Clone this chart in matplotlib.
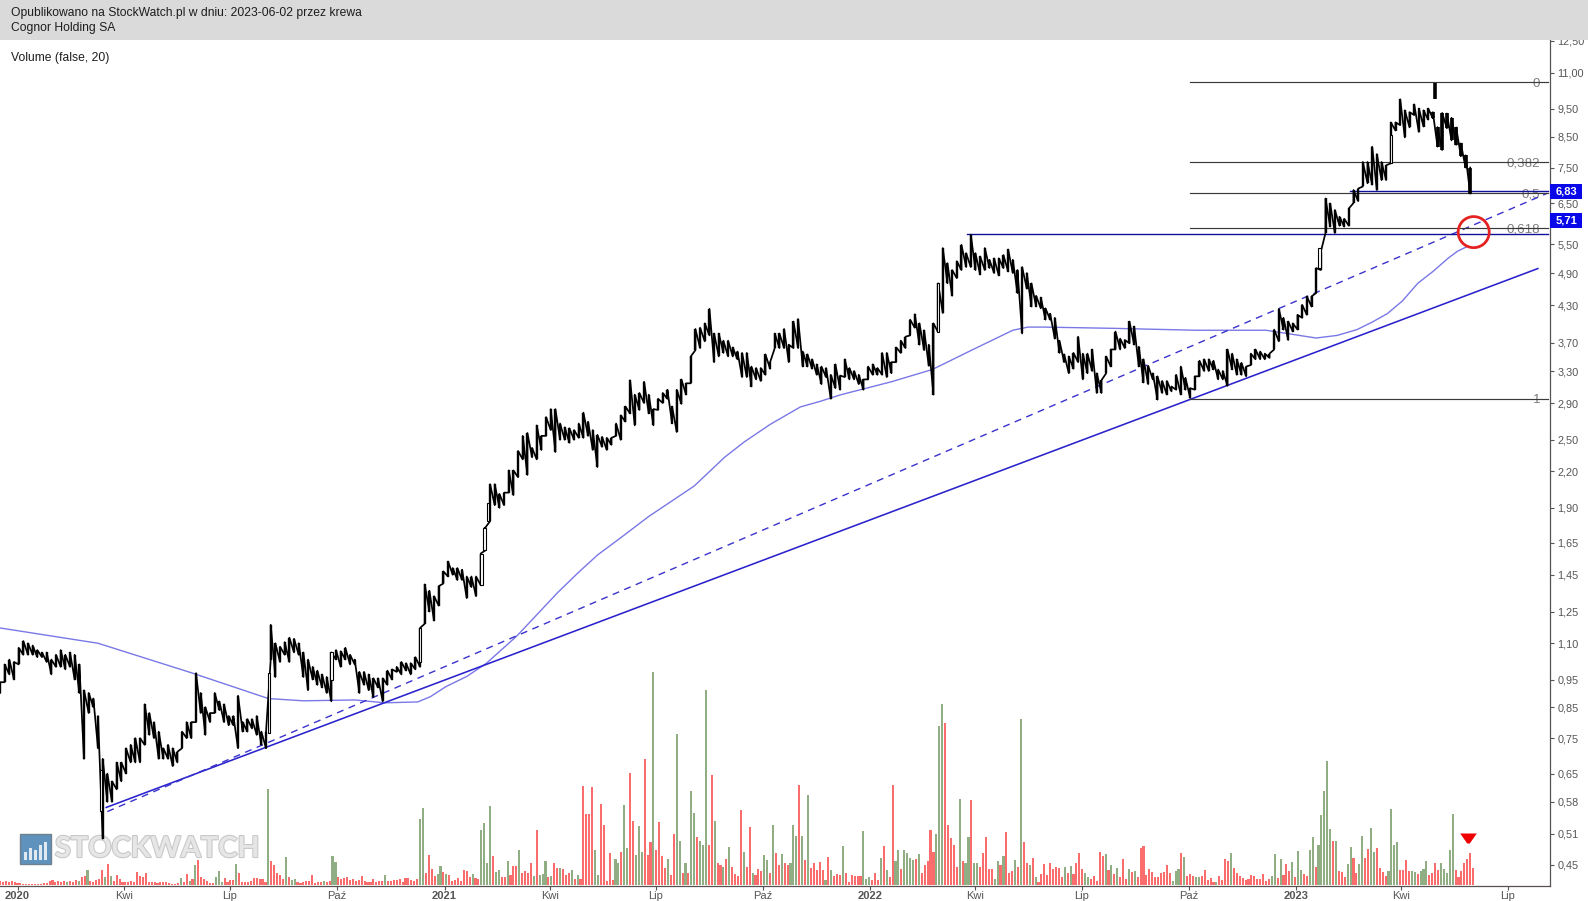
import datetime as dt
import matplotlib
matplotlib.use("Agg")
import matplotlib.pyplot as plt
import matplotlib.dates as mdates
import matplotlib.patheffects as pe
from matplotlib.patches import Rectangle
from matplotlib.path import Path
from matplotlib.ticker import FixedLocator, FixedFormatter, NullLocator
import numpy as np

plt.rcParams['font.family'] = ['Liberation Sans', 'DejaVu Sans']

# ---- price data: high / low read per 4-calendar-day step ----
first_day = dt.date(2019, 12, 17)
high = [.94,1.01,1.03,1.02,1.08,1.11,1.10,1.09,1.07,1.06,
 1.06,1.03,1.05,1.07,1.05,1.06,1.05,1.01,.91,.90,
 .88,.82,.69,.65,.63,.68,.68,.72,.73,.75,
 .75,.86,.83,.80,.77,.72,.73,.72,.71,.77,
 .80,.80,.975,.90,.85,.83,.90,.87,.86,.82,
 .82,.89,.80,.81,.81,.82,.77,.77,1.185,1.10,
 1.085,1.105,1.125,1.12,1.10,1.06,1.03,1.00,.985,.97,
 .96,1.06,1.07,1.065,1.08,1.05,1.03,.98,.98,.97,
 .955,.955,.955,.985,.99,1.00,1.02,1.015,1.015,1.04,
 1.17,1.395,1.36,1.33,1.385,1.47,1.53,1.49,1.49,1.48,
 1.44,1.44,1.44,1.58,1.755,2.09,2.09,2.01,2.02,2.21,
 2.21,2.39,2.54,2.57,2.42,2.65,2.54,2.74,2.83,2.83,
 2.67,2.63,2.62,2.60,2.67,2.79,2.69,2.60,2.55,2.53,
 2.52,2.52,2.67,2.76,2.86,3.18,3.0,3.02,3.16,3.0,
 2.83,2.95,3.02,3.06,2.86,3.06,3.19,3.14,3.50,3.91,
 3.93,4.0,4.24,3.84,3.84,3.73,3.73,3.63,3.57,3.55,
 3.55,3.36,3.34,3.34,3.53,3.42,3.84,3.84,3.91,3.67,
 4.03,4.07,3.57,3.53,3.46,3.39,3.36,3.34,3.25,3.39,
 3.24,3.46,3.34,3.30,3.25,3.19,3.36,3.39,3.34,3.55,
 3.55,3.42,3.63,3.73,3.79,4.06,4.15,4.0,3.89,3.67,
 4.0,4.70,5.42,5.10,4.96,5.14,5.49,5.31,5.72,5.31,
 5.24,5.42,5.17,5.2,5.2,5.27,5.39,5.17,4.96,5.02,
 4.90,4.70,4.47,4.44,4.25,4.16,4.09,3.73,3.53,3.50,
 3.55,3.79,3.54,3.54,3.60,3.27,3.18,3.50,3.60,3.87,
 3.76,3.74,4.03,3.95,3.64,3.46,3.37,3.27,3.23,3.17,
 3.17,3.10,3.25,3.36,3.21,3.08,3.23,3.44,3.46,3.46,
 3.44,3.32,3.30,3.60,3.54,3.46,3.41,3.36,3.54,3.60,
 3.57,3.54,3.54,3.90,4.24,4.09,4.03,4.0,4.14,4.31,
 4.46,4.46,5.0,5.34,6.62,6.49,6.32,6.15,6.10,6.36,
 6.85,6.89,7.67,7.67,8.16,7.92,7.67,7.57,9.0,9.0,
 9.88,9.45,9.38,9.68,9.52,9.45,9.52,9.38,8.83,9.35,
 9.33,9.17,8.82,8.27,7.88,7.5]
low = [.90,.94,.97,.95,1.01,1.05,1.05,1.05,1.04,1.04,
 1.02,.97,1.00,1.00,.99,1.00,.95,.90,.69,.83,
 .85,.72,.50,.58,.58,.61,.63,.65,.68,.68,
 .68,.73,.76,.75,.69,.69,.69,.67,.68,.72,
 .75,.75,.80,.83,.76,.80,.83,.84,.80,.79,
 .79,.72,.77,.77,.78,.76,.73,.72,1.03,.96,
 1.02,1.05,1.02,1.06,1.05,.96,.91,.95,.93,.92,
 .90,.87,1.03,1.00,1.03,1.01,1.01,.90,.93,.91,
 .885,.92,.87,.93,.95,.98,.97,.985,.97,.99,
 1.00,1.19,1.25,1.205,1.28,1.40,1.44,1.45,1.42,1.42,
 1.32,1.38,1.33,1.39,1.60,1.80,1.92,1.90,1.92,2.02,
 2.00,2.15,2.31,2.17,2.33,2.31,2.40,2.54,2.60,2.38,
 2.50,2.50,2.47,2.50,2.52,2.52,2.54,2.40,2.24,2.43,
 2.40,2.45,2.54,2.50,2.69,2.78,2.65,2.82,2.90,2.78,
 2.65,2.82,2.90,2.95,2.67,2.58,2.89,3.00,3.14,3.59,
 3.62,3.72,3.81,3.42,3.50,3.55,3.50,3.50,3.46,3.22,
 3.22,3.10,3.19,3.17,3.25,3.33,3.62,3.62,3.62,3.42,
 3.62,3.62,3.36,3.36,3.33,3.25,3.13,3.22,2.95,3.08,
 3.06,3.22,3.19,3.19,3.13,3.06,3.19,3.25,3.25,3.25,
 3.22,3.27,3.42,3.55,3.62,3.81,3.93,3.67,3.59,3.37,
 3.0,3.86,4.17,4.70,4.47,4.80,4.96,5.02,5.02,4.96,
 4.87,4.96,5.0,4.90,4.85,5.0,4.93,4.90,4.52,3.84,
 4.60,4.28,4.28,4.25,4.06,4.06,3.76,3.55,3.42,3.27,
 3.33,3.42,3.19,3.27,3.30,3.02,3.02,3.27,3.36,3.60,
 3.60,3.62,3.69,3.67,3.36,3.15,3.13,3.19,2.94,3.02,
 3.00,3.04,3.06,3.0,3.06,2.96,3.06,3.23,3.30,3.30,
 3.32,3.19,3.19,3.11,3.32,3.25,3.25,3.23,3.38,3.46,
 3.46,3.46,3.48,3.60,3.72,3.90,3.74,3.87,3.90,4.09,
 4.14,4.28,4.52,4.96,5.76,5.91,5.76,5.93,5.91,5.93,
 6.5,6.55,6.95,7.04,7.0,6.85,7.13,7.13,7.63,8.71,
 8.9,8.47,8.82,9.27,8.66,8.85,9.1,9.15,8.16,8.05,
 8.79,8.37,8.22,7.85,7.5,6.75]

# large hollow (rising) candles: step position, open, close
hollow_step = [21.6, 57.6, 71, 90, 103.2, 103.8, 104.6, 201, 282.7, 298]
hollow_open = [.56, .765, .95, 1.02, 1.39, 1.60, 1.80, 3.86, 5.0, 7.63]
hollow_close = [.66, .975, 1.06, 1.17, 1.58, 1.75, 1.94, 4.7, 5.43, 8.56]

outlier_day = dt.date(2023, 4, 30)
outlier_high, outlier_low = 10.55, 9.9

# ---- moving average ----
ma_days = ["2019-12-17","2020-03-10","2020-05-30","2020-08-03","2020-09-02","2020-10-16",
 "2020-11-11","2020-12-09","2020-12-20","2021-01-02","2021-01-20","2021-02-06","2021-03-04",
 "2021-04-08","2021-04-25","2021-05-12","2021-06-03","2021-06-25","2021-07-12","2021-08-03",
 "2021-08-29","2021-09-15","2021-10-07","2021-11-02","2021-11-19","2021-12-07","2022-01-19",
 "2022-02-23","2022-03-30","2022-05-03","2022-05-16","2022-05-29","2022-07-29","2022-10-07",
 "2022-12-06","2023-01-18","2023-02-05","2023-02-22","2023-03-07","2023-03-20","2023-04-02",
 "2023-04-15","2023-04-28","2023-05-11","2023-05-19","2023-05-28"]
ma_values = [1.17,1.10,.975,.88,.872,.875,.865,.868,.887,.923,.962,1.015,1.133,
 1.35,1.459,1.57,1.696,1.835,1.936,2.075,2.33,2.48,2.66,2.855,2.92,3.0,3.16,
 3.32,3.60,3.89,3.94,3.94,3.92,3.89,3.89,3.77,3.81,3.90,4.02,4.16,4.38,4.70,4.93,5.20,5.35,5.46]

# ---- volume per 2.5-calendar-day step, with colour letters ----
volumes = [
 4,3,4,3,4,3,2,2,1,1,1,1,1,1,1,2,2,4,5,3,
 4,3,4,3,4,3,5,4,8,9,15,4,3,5,6,15,8,21,9,4,
 10,6,3,3,3,4,3,13,9,8,12,3,3,3,2,3,3,3,2,1,
 1,2,7,3,11,4,6,20,25,8,6,4,2,2,8,14,3,7,3,5,
 5,21,12,3,3,3,4,7,7,6,6,3,96,24,20,12,10,6,28,8,
 5,6,3,2,3,4,4,10,2,3,3,4,3,4,29,23,8,6,7,8,
 5,6,4,5,9,4,3,3,6,3,4,4,10,4,4,5,5,6,3,7,
 7,5,4,6,66,77,12,30,16,9,11,19,13,11,10,4,5,7,4,15,
 14,8,11,7,6,55,62,22,79,29,13,15,8,8,24,10,19,19,35,12,
 14,12,22,9,55,10,11,24,8,9,22,17,17,16,10,12,15,6,10,6,
 99,71,71,98,35,10,81,60,4,32,5,26,22,33,80,37,112,64,30,59,
 33,126,30,43,213,35,63,29,17,26,10,51,151,44,12,22,12,94,72,48,
 44,40,195,40,110,64,22,20,18,26,38,18,11,9,75,33,18,58,12,10,
 16,14,30,25,12,60,32,20,31,22,20,22,60,49,100,49,25,90,17,22,
 15,23,15,5,28,15,9,11,10,39,12,3,10,9,9,9,54,6,8,5,
 12,5,27,39,15,8,100,24,35,16,35,32,27,25,26,31,12,20,24,55,
 33,51,159,181,162,60,47,40,18,86,24,22,48,85,22,22,18,32,48,16,
 16,6,24,20,29,53,12,14,25,18,166,43,22,20,27,8,3,11,21,10,
 22,16,18,17,8,18,12,19,11,22,32,16,12,8,6,9,4,33,29,31,
 15,20,11,17,8,26,6,16,13,14,8,37,39,10,16,13,8,8,12,13,
 20,12,4,14,16,32,28,9,11,9,8,8,9,15,5,7,3,3,9,5,
 26,24,32,17,12,9,7,5,6,10,9,6,6,11,4,6,9,31,7,26,
 10,21,14,23,8,34,15,11,9,35,48,18,40,70,94,124,56,44,44,14,
 13,8,21,38,27,12,21,49,27,36,57,33,37,17,13,9,14,76,40,43,
 15,15,25,14,14,13,11,14,16,24,10,12,22,15,22,16,12,35,71,15,
 8,14,22,26,32,17]
vol_color_rows = [
 "rrrrrrrrrrrrrrrrrrrr", "rrrgrrrgrrgrrrrrgrgr", "rrrrrrrrrrrrrrrrrrrr", "rrgrrgrgrrrrrrgggrrr",
 "rgrrrrrrrrrrgrrrrrgr", "ggrrrrrrrrrgrrggrrrr", "rrrrrrrrrrrrgrrrrrrr", "rrrrggrrrrggrgrrrrrr",
 "rrgrrggggrggrrgrrrgr", "rrrgrgggrgrrgrrrgrgr", "rrrrggrrrrrggrggrrgg", "grrrgrrrrgrrggrgrggr",
 "gggrrgrrgrgrrrrgrrgr", "rrggrgrrgrrgggrgrgrr", "rrrgrgrrrgrrrrrrgggr", "rrgrgrrggrggggrgrrrr",
 "rgggrrrrrgrggrggrrrr", "rggrgrrrgrgrrgrgrrrr", "rrrrrgrgrrrrggrrrrrg", "rgrgrrrgrgrrrrrrrrrr",
 "rrgggrgrrrggrrrrrgrr", "rrgrrrrrrrrrrrrrggrg", "rrrgrggrrggrgggggrgr", "rrggrrggrrggrrrrgggg",
 "rrrrggrgggrrrrgggggr", "rrrrrr"]
vol_colors = "".join(vol_color_rows)

# ---- annotations' values ----
fib_start = dt.date(2022, 10, 2)
fib_levels = [10.58, 7.66, 6.76, 5.87, 2.95]
fib_names = ["0", "0,382", "0,5", "0,618", "1"]
resistance_hi, resistance_hi_start = 6.83, dt.date(2023, 2, 16)
resistance_lo, resistance_lo_start = 5.73, dt.date(2022, 3, 25)
solid_days, solid_prices = [dt.date(2020, 3, 17), dt.date(2023, 7, 27)], [.567, 4.99]
dash_days, dash_prices = [dt.date(2020, 3, 18), dt.date(2023, 8, 4)], [.5577, 6.76]
circle_day, circle_price = dt.date(2023, 6, 2), 5.78
marker_day, marker_level = dt.date(2023, 5, 28), 47

y_ticks = [12.5,11,9.5,8.5,7.5,6.5,5.5,4.9,4.3,3.7,3.3,2.9,2.5,2.2,1.9,1.65,1.45,1.25,1.1,.95,.85,.75,.65,.58,.51,.45]
y_labels = ["12,50","11,00","9,50","8,50","7,50","6,50","5,50","4,90","4,30","3,70","3,30","2,90",
            "2,50","2,20","1,90","1,65","1,45","1,25","1,10","0,95","0,85","0,75","0,65","0,58","0,51","0,45"]
x_tick_days = [dt.date(y, m, 1) for y in (2020, 2021, 2022, 2023) for m in (1, 4, 7, 10)][:15]
x_labels = ["2020","Kwi","Lip","Paź","2021","Kwi","Lip","Paź","2022","Kwi","Lip","Paź","2023","Kwi","Lip"]

W, H = 1588, 901
fig = plt.figure(figsize=(W / 100, H / 100), dpi=100, facecolor="white")
L, R, T, B = 0, 1550, 40, 886
ax = fig.add_axes([L / W, (H - B) / H, (R - L) / W, (B - T) / H])
axv = ax.twinx()


def fx(px):
    return px / W


def fy(py):
    return 1 - py / H


# price panel
ax.set_yscale("log")
ax.set_ylim(0.413, 12.55)
xl = (mdates.date2num(first_day), mdates.date2num(first_day) + 1328.4)
ax.set_xlim(*xl)
ax.set_zorder(2)
ax.patch.set_visible(False)
axv.set_zorder(1)
axv.set_ylim(-1, 845)
axv.axis("off")

day0 = mdates.date2num(first_day)
xs = day0 + 4 * np.arange(len(high))
ax.vlines(xs, low, high, color="black", lw=1.7, zorder=4)
zx = np.repeat(xs, 2)
zy = np.column_stack([low, high]).ravel()
ax.plot(zx, zy, color="black", lw=1.25, zorder=4)
ax.vlines(xs[307:], low[307:], high[307:], color="black", lw=2.6, zorder=4)
ax.vlines(mdates.date2num(outlier_day), outlier_low, outlier_high, color="black", lw=2.6, zorder=4)
hx = day0 + 4 * np.array(hollow_step)
ax.bar(hx, np.array(hollow_close) - np.array(hollow_open), bottom=hollow_open, width=2.0,
       facecolor="white", edgecolor="black", lw=0.8, zorder=5)

# volume
vx = day0 + 2.5 * np.arange(len(volumes))
vc = ["#8aa97c" if c == "g" else "#fb6464" for c in vol_colors]
axv.bar(vx, volumes, width=1.8, color=vc, alpha=0.95, lw=0, zorder=3)

# moving average and trend lines
ax.plot(mdates.datestr2num(ma_days), ma_values, color="#7a78e6", lw=1.0, zorder=3)
ax.plot(mdates.date2num(solid_days), solid_prices, color="#2a22cc", lw=1.15, zorder=3)
ax.plot(mdates.date2num(dash_days), dash_prices, color="#3a32cc", lw=1.0, ls=(0, (5, 4)), zorder=3)

# fibonacci
x_right = day0 + 1326.5
for lv, nm in zip(fib_levels, fib_names):
    ax.plot([mdates.date2num(fib_start), x_right], [lv, lv], color="#3a3a3a", lw=0.85, zorder=3)
    ax.text(x_right - 6.5, lv, nm, color="#7d7d7d", fontsize=9.6, ha="right", va="center_baseline", zorder=2)
ax.plot([mdates.date2num(resistance_hi_start), x_right], [resistance_hi] * 2, color="#10109a", lw=1.0, zorder=3)
ax.plot([mdates.date2num(resistance_lo_start), x_right], [resistance_lo] * 2, color="#10109a", lw=1.0, zorder=3)

# circle and marker
ax.scatter([mdates.date2num(circle_day)], [circle_price], s=500, facecolor="none", edgecolor="#e52222", lw=2.0, zorder=6)
tri = Path([(-1, 0.6), (1, 0.6), (0.15, -0.6), (-0.15, -0.6), (-1, 0.6)])
axv.plot([mdates.date2num(marker_day)], [marker_level], marker=tri, ms=12, color="#ee0000", mew=0, zorder=6)

# axes
for s in ("top", "left"):
    ax.spines[s].set_visible(False)
ax.spines["right"].set_color("#555555")
ax.spines["bottom"].set_color("#5a5050")
ax.spines["right"].set_linewidth(0.9)
ax.spines["bottom"].set_linewidth(0.9)
ax.yaxis.tick_right()
ax.yaxis.set_major_locator(FixedLocator(y_ticks))
ax.yaxis.set_major_formatter(FixedFormatter(y_labels))
ax.yaxis.set_minor_locator(NullLocator())
ax.tick_params(axis="y", which="major", length=3, width=0.8, color="#555555",
               labelcolor="#555555", labelsize=7.8, pad=2.5)
ax.xaxis.set_major_locator(FixedLocator(mdates.date2num(x_tick_days)))
ax.xaxis.set_major_formatter(FixedFormatter(x_labels))
ax.tick_params(axis="x", which="major", length=3, width=0.8, color="#555555",
               labelcolor="#555555", labelsize=8.0, pad=0.5)
for lab, txt in zip(ax.get_xticklabels(), x_labels):
    if txt.isdigit():
        lab.set_fontweight("bold")

# watermark
fig_wm = dict(transform=fig.transFigure, zorder=0)
axv.add_patch(Rectangle((fx(20), fy(864)), 31 / W, 30 / H, facecolor="#5f92bd", edgecolor="#70808c", lw=1.0, clip_on=False, **fig_wm))
for off, top in zip([24, 29, 34, 39, 44], [852, 848, 850, 845, 842]):
    axv.add_patch(Rectangle((fx(off), fy(860)), 3 / W, (860 - top) / H, facecolor="#dfe9f2", lw=0, clip_on=False, **fig_wm))
axv.text(fx(55), fy(849), "STOCKWATCH", transform=fig.transFigure, zorder=0, clip_on=False,
         family=["Lato", "Liberation Sans"], fontweight="bold", fontsize=20.8,
         color="#e6e6e6", va="center", ha="left",
         path_effects=[pe.withStroke(linewidth=1.6, foreground="#c9c9c9")])

# header
fig.add_artist(Rectangle((0, fy(40)), 1, 40 / H, transform=fig.transFigure, facecolor="#dadada", lw=0, zorder=5))
fig.text(fx(11), fy(13.2), "Opublikowano na StockWatch.pl w dniu: 2023-06-02 przez krewa",
         fontsize=8.75, color="#1e1e1e", va="center", zorder=6)
fig.text(fx(11), fy(28.5), "Cognor Holding SA", fontsize=8.75, color="#1e1e1e", va="center", zorder=6)
fig.text(fx(11), fy(58.5), "Volume (false, 20)", fontsize=8.75, color="#1e1e1e", va="center", zorder=6)

# value tags
for txt, yc in (("6,83", 191.5), ("5,71", 220.7)):
    fig.add_artist(Rectangle((fx(1550), fy(yc + 7.5)), 32 / W, 15 / H, transform=fig.transFigure,
                             facecolor="#0808e8", lw=0, zorder=5))
    fig.text(fx(1566), fy(yc), txt, color="white", fontsize=8.0, fontweight="bold",
             ha="center", va="center", zorder=6)

fig.savefig("out.png", dpi=100)
